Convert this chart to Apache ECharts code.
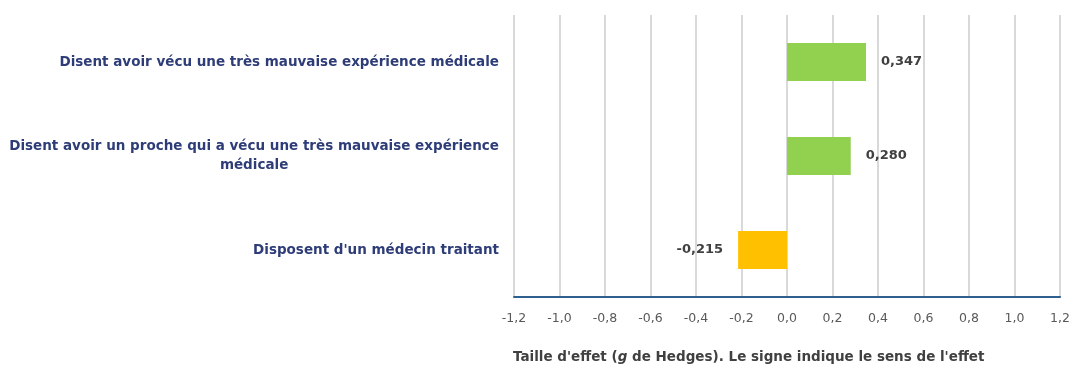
<!DOCTYPE html>
<html>
<head>
<meta charset="utf-8">
<style>
  html, body { margin: 0; padding: 0; background: #ffffff; }
  #chart { width: 1073px; height: 365px; }
</style>
<script src="https://cdn.jsdelivr.net/npm/echarts@6/dist/echarts.min.js"></script>
</head>
<body>
<div id="chart"></div>
<script>
// Effect sizes (Hedges' g) by respondent group
const categories = [
  'Disent avoir vécu une très mauvaise expérience médicale',
  'Disent avoir un proche qui a vécu une très mauvaise expérience\nmédicale',
  "Disposent d'un médecin traitant"
];
const effectValues = [0.347, 0.280, -0.215];
const tickValues = [-1.2, -1.0, -0.8, -0.6, -0.4, -0.2, 0.0, 0.2, 0.4, 0.6, 0.8, 1.0, 1.2];

const POS_COLOR = '#92D050';
const NEG_COLOR = '#FFC000';
const BOLD_FONT = 'DejaVu Sans, sans-serif';
const TICK_FONT = 'DejaVu Sans, sans-serif';
const LABEL_SIZE = 13.5;

const fmt = v => v.toFixed(1).replace('.', ',');

const chart = echarts.init(document.getElementById('chart'), null, { renderer: 'canvas' });

chart.setOption({
  animation: false,
  backgroundColor: '#ffffff',
  title: {
    left: 513,
    top: 350,
    padding: 0,
    text: "{b|Taille d'effet (}{i|g}{b| de Hedges). Le signe indique le sens de l'effet}",
    textStyle: {
      rich: {
        b: { fontFamily: BOLD_FONT, fontWeight: 'bold', fontSize: LABEL_SIZE, color: '#404040' },
        i: { fontFamily: BOLD_FONT, fontWeight: 'bold', fontStyle: 'italic', fontSize: LABEL_SIZE, color: '#404040' }
      }
    }
  },
  grid: { left: 514, right: 12, top: 15, bottom: 68, containLabel: false },
  xAxis: {
    type: 'value',
    min: tickValues[0],
    max: tickValues[tickValues.length - 1],
    interval: 0.2,
    axisLine: { show: true, onZero: false, lineStyle: { color: '#2F5F8F', width: 2 } },
    axisTick: { show: false },
    axisLabel: {
      margin: 15,
      fontFamily: TICK_FONT,
      fontSize: 12.5,
      color: '#595959',
      formatter: v => fmt(v)
    },
    splitLine: { show: true, lineStyle: { color: '#D9D9D9', width: 2 } }
  },
  yAxis: {
    type: 'category',
    inverse: true,
    data: categories,
    axisLine: { show: false },
    axisTick: { show: false },
    axisLabel: {
      margin: 15,
      fontFamily: BOLD_FONT,
      fontWeight: 'bold',
      fontSize: LABEL_SIZE,
      color: '#2E3D78',
      lineHeight: 19,
      formatter: function (v) {
        const parts = v.split('\n');
        if (parts.length === 1) return '{a|' + v + '}';
        return '{a|' + parts[0] + '}\n{c|' + parts[1] + '}';
      },
      rich: {
        a: { fontFamily: BOLD_FONT, fontWeight: 'bold', fontSize: LABEL_SIZE, color: '#2E3D78', lineHeight: 19 },
        c: { fontFamily: BOLD_FONT, fontWeight: 'bold', fontSize: LABEL_SIZE, color: '#2E3D78', lineHeight: 19, width: 488, align: 'center' }
      }
    }
  },
  series: [{
    type: 'bar',
    barWidth: 38,
    data: effectValues.map(v => ({
      value: v,
      itemStyle: { color: v >= 0 ? POS_COLOR : NEG_COLOR },
      label: { position: v >= 0 ? 'right' : 'left' }
    })),
    label: {
      show: true,
      distance: 15,
      fontFamily: BOLD_FONT,
      fontWeight: 'bold',
      fontSize: 13,
      color: '#404040',
      formatter: p => p.value.toFixed(3).replace('.', ',')
    }
  }]
});
</script>
</body>
</html>
